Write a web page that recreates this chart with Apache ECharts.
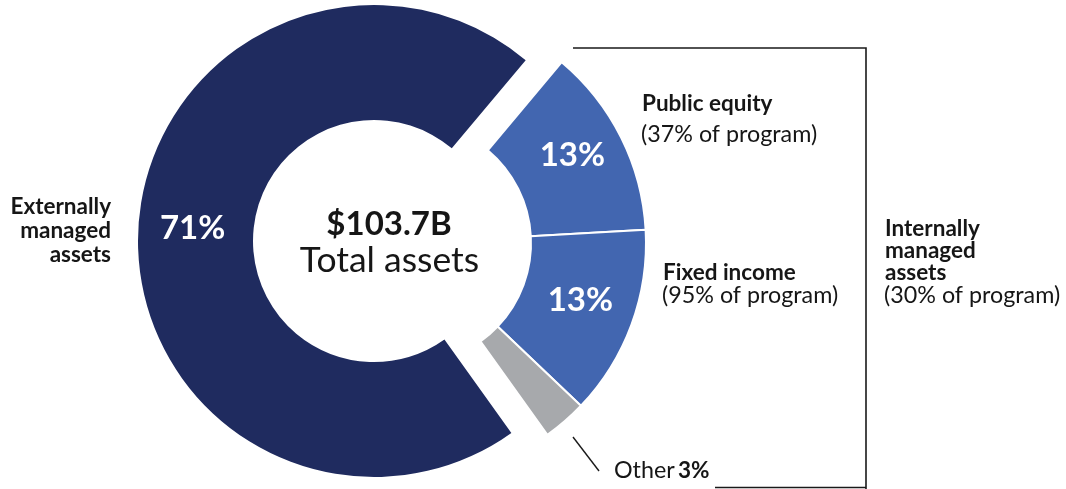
<!DOCTYPE html>
<html>
<head>
<meta charset="utf-8">
<script src="https://cdn.jsdelivr.net/npm/echarts@6/dist/echarts.min.js"></script>
<style>
  html, body { margin: 0; padding: 0; background: #ffffff; }
  #chart { width: 1066px; height: 489px; }
</style>
</head>
<body>
<div id="chart"></div>
<script>
// ---- Data ----
const categories = ['Public equity', 'Fixed income', 'Other', 'Externally managed assets'];
const shares = [13, 13, 3, 71];                       // % of total assets
const programShares = ['37%', '95%', null, null];      // share of each program managed internally
const internalGroupLabel = 'Internally managed assets';
const internalProgramShare = '30%';
const totalAssets = '$103.7B';
const totalLabel = 'Total assets';

// ---- Styles ----
const NAVY = '#1f2b5f';
const BLUE = '#4266b0';
const GRAY = '#a7a9ac';
const TXT = '#161616';
const FONT = 'Lato, "Open Sans", sans-serif';
const colors = [BLUE, BLUE, GRAY, NAVY];
const isInternal = [true, true, true, false];
// line height of an empty second label line, used to lift inside labels slightly
const labelLift = [13, 11, 0, 12];

const R = [121, 236];
const START = 50;
const BOLD_SIZE = 22.5;
const REG_SIZE = 23.3;

function buildData(showInternal) {
  return categories.map((name, i) => {
    const visible = isInternal[i] === showInternal;
    return {
      name: name,
      value: shares[i],
      itemStyle: visible
        ? { color: colors[i], borderColor: '#ffffff', borderWidth: showInternal ? 2 : 0 }
        : { color: 'rgba(0,0,0,0)', borderWidth: 0 },
      label: {
        show: visible && name !== 'Other',
        lineHeight: labelLift[i] || 33
      }
    };
  });
}

const commonSeries = {
  type: 'pie',
  radius: R,
  startAngle: START,
  clockwise: true,
  silent: true,
  avoidLabelOverlap: false,
  animation: false,
  labelLine: { show: false },
  emphasis: { disabled: true },
  label: {
    position: 'inside',
    color: '#ffffff',
    fontFamily: FONT,
    fontWeight: 'bold',
    fontSize: 33,
    formatter: p => p.value + '%\n '
  }
};

function txt(x, y, text, opts) {
  return {
    type: 'text', x: x, y: y, silent: true,
    style: Object.assign({
      text: text, fill: TXT,
      fontFamily: FONT, fontSize: REG_SIZE, fontWeight: 'normal',
      align: 'left', verticalAlign: 'middle',
      textAlign: 'left', textVerticalAlign: 'middle'
    }, opts || {})
  };
}
const B = { fontWeight: 'bold', fontSize: BOLD_SIZE };
const BR = { fontWeight: 'bold', fontSize: BOLD_SIZE, align: 'right', textAlign: 'right' };

const groupWords = internalGroupLabel.split(' ');
const extWords = categories[3].split(' ');

const graphic = [
  // bracket around internally managed assets
  { type: 'polyline', silent: true, shape: { points: [[573, 48], [866, 48], [866, 492]] },
    style: { stroke: '#1a1a1a', lineWidth: 1.6, fill: null } },
  { type: 'polyline', silent: true, shape: { points: [[715, 487.5], [866, 487.5]] },
    style: { stroke: '#1a1a1a', lineWidth: 1.6, fill: null } },
  // leader to "Other"
  { type: 'polyline', silent: true, shape: { points: [[573, 437], [599, 471]] },
    style: { stroke: '#1a1a1a', lineWidth: 1.4, fill: null } },

  // center text
  txt(389, 224, totalAssets, { fontWeight: 'bold', fontSize: 33, align: 'center', textAlign: 'center' }),
  txt(389.5, 261, totalLabel, { fontSize: 35.5, align: 'center', textAlign: 'center' }),

  // slice names
  txt(642, 103.5, categories[0], B),
  txt(641, 134.5, '(' + programShares[0] + ' of program)'),
  txt(663, 272.5, categories[1], B),
  txt(662, 295.5, '(' + programShares[1] + ' of program)'),

  // internally managed group
  txt(885, 228.6, groupWords[0], B),
  txt(885, 250.9, groupWords[1], B),
  txt(885, 273.2, groupWords[2], B),
  txt(884, 295.5, '(' + internalProgramShare + ' of program)'),

  // externally managed
  txt(111, 207, extWords[0], BR),
  txt(111, 231, extWords[1], BR),
  txt(111, 255, extWords[2], BR),

  // other
  {
    type: 'text', x: 614, y: 470.5, silent: true,
    style: {
      text: '{r|' + categories[2] + '} {b|' + shares[2] + '%}',
      align: 'left', verticalAlign: 'middle', textAlign: 'left', textVerticalAlign: 'middle',
      rich: {
        r: { fontFamily: FONT, fontSize: REG_SIZE, fill: TXT, color: TXT },
        b: { fontFamily: FONT, fontSize: BOLD_SIZE, fontWeight: 'bold', fill: TXT, color: TXT }
      }
    }
  }
];

const chart = echarts.init(document.getElementById('chart'), null, { renderer: 'canvas' });
chart.setOption({
  backgroundColor: '#ffffff',
  animation: false,
  series: [
    Object.assign({}, commonSeries, { center: [374, 241], data: buildData(false) }),
    Object.assign({}, commonSeries, { center: [410, 243], data: buildData(true) })
  ],
  graphic: graphic
});
</script>
</body>
</html>
